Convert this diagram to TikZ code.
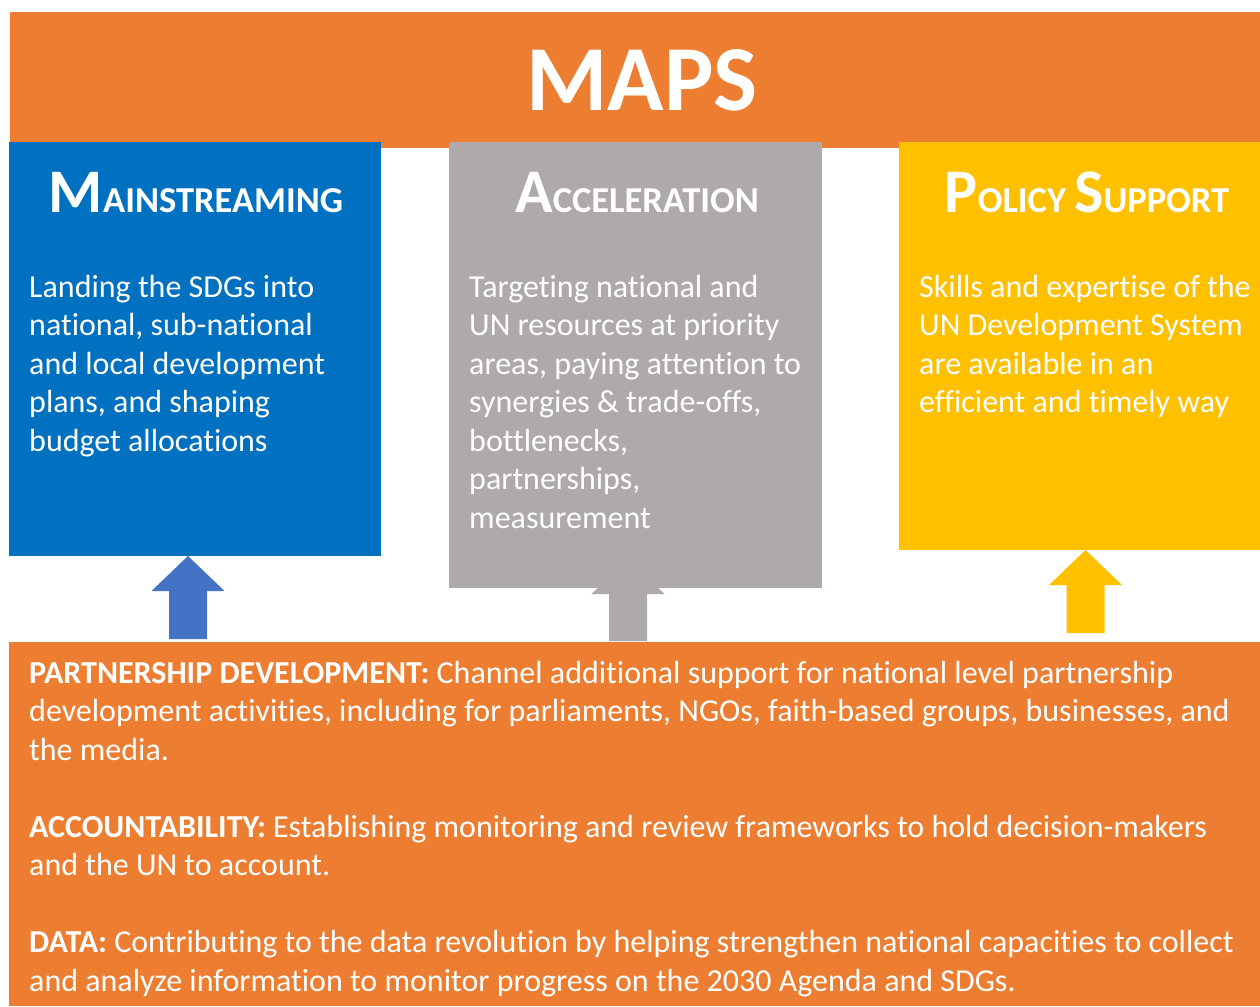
\documentclass[tikz,border=0pt]{standalone}
\usepackage{fontspec}
\setmainfont{Carlito}[Ligatures=NoCommon]
\usetikzlibrary{calc}
\definecolor{maporange}{HTML}{ED7D31}
\definecolor{mapblue}{HTML}{0070C0}
\definecolor{mapgray}{HTML}{AEAAAA}
\definecolor{mapyellow}{HTML}{FFC000}
\definecolor{arrowblue}{HTML}{4472C4}
\newcommand\mapbigcap[1]{{\fontsize{62}{62}\selectfont #1}}
\newcommand\mapsmallcap[1]{{\fontsize{36.5}{36.5}\selectfont #1}}
\newcommand\blockarrow[3]{%
  \fill[#1] let \p1=(#2), \p2=(#3) in
    (\x1-19pt,\y1) -- (\x1-19pt,\y2-35pt) -- (\x1-36.5pt,\y2-35pt) -- (\x1,\y2)
    -- (\x1+36.5pt,\y2-35pt) -- (\x1+19pt,\y2-35pt) -- (\x1+19pt,\y1) -- cycle;}
\begin{document}
\begin{tikzpicture}[x=1pt,y=-1pt,
  panel/.style={anchor=north west, inner sep=0pt, outer sep=0pt, draw=none},
  titletext/.style={anchor=base, inner sep=0pt, text=white, font=\bfseries},
  bodytext/.style={anchor=north west, inner sep=0pt, align=left, text=white,
    font=\fontsize{32}{38.5}\selectfont}]
\useasboundingbox (0,0) rectangle (1260,1006);
\fill[white] (0,0) rectangle (1260,1006);

% arrows (drawn first: the grey one runs under its box)
\coordinate (fromA) at (188,639);
\coordinate (tipA) at (188,556);
\coordinate (fromB) at (628,641);
\coordinate (tipB) at (628,559);
\coordinate (fromC) at (1085.5,633);
\coordinate (tipC) at (1085.5,550);
\blockarrow{arrowblue}{fromA}{tipA}
\blockarrow{mapgray}{fromB}{tipB}
\blockarrow{mapyellow}{fromC}{tipC}

% banner and panels
\node[panel, fill=maporange, minimum width=1250pt, minimum height=136pt] (banner) at (10,12) {};
\node[panel, fill=mapblue, minimum width=372pt, minimum height=414pt] (mainstream) at (9,142) {};
\node[panel, fill=mapgray, minimum width=373pt, minimum height=446pt] (accel) at (449,142) {};
\node[panel, fill=mapyellow, minimum width=361pt, minimum height=408pt] (policy) at (899,142) {};
\node[panel, fill=maporange, minimum width=1251pt, minimum height=364pt] (base) at (9,642) {};

% titles
\node[titletext, font=\bfseries\fontsize{93}{93}\selectfont] (maps) at (642,111) {MAPS};
\node[titletext] (t1) at (196,212) {\mapbigcap{M}\mapsmallcap{AINSTREAMING}};
\node[titletext] (t2) at (637,212) {\mapbigcap{A}\mapsmallcap{CCELERATION}};
\node[titletext] (t3) at (1087,212) {\mapbigcap{P}\mapsmallcap{OLICY }\mapbigcap{S}\mapsmallcap{UPPORT}};

% body texts (first baseline = top + 26.95)
\node[bodytext] (b1) at (29,270.05) {\strut Landing the SDGs into\\ national, sub-national\\ and local development\\ plans, and shaping\\ budget allocations};
\node[bodytext] (b2) at (469,270.05) {\strut Targeting national and\\ UN resources at priority\\ areas, paying attention to\\ synergies \& trade-offs,\\ bottlenecks,\\ partnerships,\\ measurement};
\node[bodytext] (b3) at (919,270.05) {\strut Skills and expertise of the\\ UN Development System\\ are available in an\\ efficient and timely way};

\node[bodytext] (p1) at (29,656.05) {\strut\textbf{PARTNERSHIP DEVELOPMENT:} Channel additional support for national level partnership\\ development activities, including for parliaments, NGOs, faith-based groups, businesses, and\\ the media.};
\node[bodytext] (p2) at (29,810.05) {\strut\textbf{ACCOUNTABILITY:} Establishing monitoring and review frameworks to hold decision-makers\\ and the UN to account.};
\node[bodytext] (p3) at (29,925.55) {\strut\textbf{DATA:} Contributing to the data revolution by helping strengthen national capacities to collect\\ and analyze information to monitor progress on the 2030 Agenda and SDGs.};
\end{tikzpicture}
\end{document}
